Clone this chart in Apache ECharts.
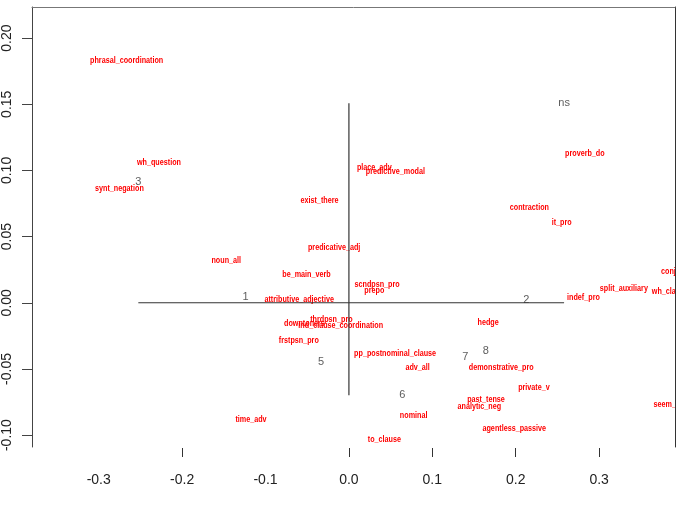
<!DOCTYPE html>
<html>
<head>
<meta charset="utf-8">
<script src="https://cdn.jsdelivr.net/npm/echarts@6/dist/echarts.min.js"></script>
<style>
  html, body { margin: 0; padding: 0; background: #fff; }
  #chart { width: 679px; height: 507px; }
</style>
</head>
<body>
<div id="chart"></div>
<script>
// feature labels (red)
var featNames = ['phrasal_coordination', 'wh_question', 'synt_negation', 'noun_all', 'exist_there',
  'predicative_adj', 'be_main_verb', 'attributive_adjective', 'place_adv', 'predictive_modal',
  'scndpsn_pro', 'prepo', 'proverb_do', 'contraction', 'it_pro', 'conjuncts', 'split_auxiliary',
  'wh_clause', 'indef_pro', 'thrdpsn_pro', 'downtoners', 'ind_clause_coordination', 'frstpsn_pro',
  'pp_postnominal_clause', 'adv_all', 'time_adv', 'nominal', 'to_clause', 'hedge',
  'demonstrative_pro', 'private_v', 'past_tense', 'analytic_neg', 'agentless_passive', 'seem_appear']
var featX = [-0.2665, -0.2278, -0.2752, -0.1471, -0.0353,
  -0.0177, -0.0509, -0.0596, 0.0305, 0.0557,
  0.0338, 0.0305, 0.2829, 0.2164, 0.2551, 0.3946, 0.3297,
  0.385, 0.2812, -0.0210, -0.0533, -0.0098, -0.0601,
  0.0554, 0.0824, -0.1174, 0.0776, 0.0425, 0.1669,
  0.1826, 0.2219, 0.1644, 0.1564, 0.1983, 0.3928]
var featY = [0.1827, 0.1063, 0.0865, 0.0323, 0.0769,
  0.0419, 0.0215, 0.0026, 0.1020, 0.0993,
  0.0139, 0.0091, 0.1129, 0.0721, 0.0608, 0.0234, 0.0106,
  0.0083, 0.0041, -0.0123, -0.0156, -0.0174, -0.0282,
  -0.0380, -0.0488, -0.0879, -0.0854, -0.1030, -0.0153,
  -0.0488, -0.0644, -0.0730, -0.0782, -0.0952, -0.0769]

// cluster labels (black)
var clusterNames = ['1', '2', '3', '5', '6', '7', '8', 'ns']
var clusterX = [-0.1240, 0.2126, -0.2525, -0.0333, 0.0641, 0.1395, 0.1641, 0.2580]
var clusterY = [0.0045, 0.0020, 0.0915, -0.0446, -0.0698, -0.0412, -0.0361, 0.1507]

var xLabels = [-0.3, -0.2, -0.1, 0.0, 0.1, 0.2, 0.3]
var xTicks = [-0.2, 0.0, 0.1, 0.2, 0.3]
var yLabels = [-0.10, -0.05, 0.00, 0.05, 0.10, 0.15, 0.20]

var featData = featNames.map(function (n, i) { return [featX[i], featY[i]] })
var clusterData = clusterNames.map(function (n, i) { return [clusterX[i], clusterY[i], n] })

// cross through the origin spanning the cluster positions
var hLine = [[Math.min.apply(null, clusterX), 0], [Math.max.apply(null, clusterX), 0]]
var vLine = [[0, Math.max.apply(null, clusterY)], [0, Math.min.apply(null, clusterY)]]

var chart = echarts.init(document.getElementById('chart'))
var axisFont = { fontFamily: 'Liberation Sans', fontSize: 14, color: '#222' }

chart.setOption({
  animation: false,
  grid: { left: 31, top: 7, right: 4, bottom: 60 },
  xAxis: [
    {
      type: 'value', min: -0.380, max: 0.391, offset: 1,
      splitLine: { show: false },
      axisLine: { show: false, onZero: false },
      axisTick: { show: true, length: 9, customValues: xTicks, lineStyle: { color: '#333' } },
      axisLabel: Object.assign({ margin: 25, customValues: xLabels, formatter: function (v) { return v.toFixed(1) } }, axisFont)
    },
    {
      type: 'value', position: 'top', min: -0.380, max: 0.391,
      splitLine: { show: false },
      axisLine: { show: true, onZero: false, lineStyle: { color: '#777', width: 1 } },
      axisTick: { show: false }, axisLabel: { show: false }
    }
  ],
  yAxis: [
    {
      type: 'value', min: -0.109, max: 0.2235,
      splitLine: { show: false },
      axisLine: { show: true, onZero: false, lineStyle: { color: '#444' } },
      axisTick: { show: true, length: 10, customValues: yLabels, lineStyle: { color: '#444' } },
      axisLabel: Object.assign({ rotate: 90, margin: 18, customValues: yLabels, formatter: function (v) { return v.toFixed(2) } }, axisFont)
    },
    {
      type: 'value', position: 'right', min: -0.109, max: 0.2235,
      splitLine: { show: false },
      axisLine: { show: true, onZero: false, lineStyle: { color: '#333' } },
      axisTick: { show: false }, axisLabel: { show: false }
    }
  ],
  series: [
    {
      type: 'line', data: hLine, symbol: 'none',
      lineStyle: { color: '#333', width: 1.2 }
    },
    {
      type: 'line', data: vLine, symbol: 'none',
      lineStyle: { color: '#333', width: 1.2 }
    },
    {
      type: 'scatter', data: clusterData, symbolSize: 0, clip: false,
      label: {
        show: true, position: 'inside', formatter: function (p) { return p.data[2] },
        fontFamily: 'Liberation Sans', fontSize: 11, color: '#333'
      }
    },
    {
      // narrow bold labels, like R's text() in a condensed face
      type: 'custom', data: featData, clip: true,
      renderItem: function (params, api) {
        var p = api.coord([api.value(0), api.value(1)])
        return {
          type: 'text', x: p[0], y: p[1], scaleX: 0.8,
          style: {
            text: featNames[params.dataIndex],
            x: 0, y: 0, align: 'center', verticalAlign: 'middle',
            font: 'bold 9px "Liberation Sans", Arial, sans-serif',
            fill: '#ff0000'
          }
        }
      }
    }
  ]
})
</script>
</body>
</html>
